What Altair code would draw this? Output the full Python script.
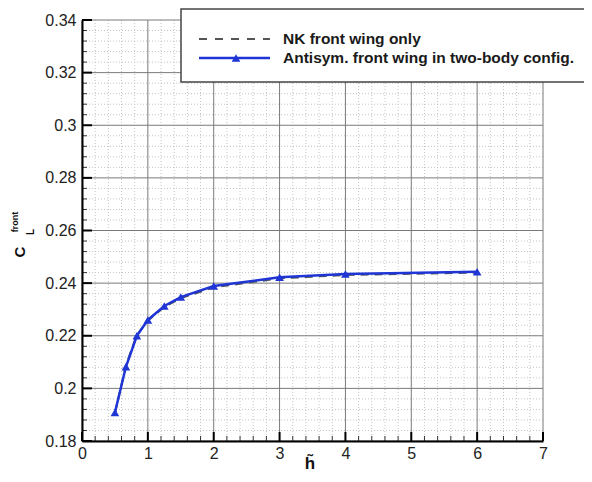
import altair as alt
import pandas as pd
import numpy as np

# ---- data ----
h_vals = [0.5, 0.667, 0.833, 1.0, 1.25, 1.5, 2.0, 3.0, 4.0, 6.0]
cl_antisym = [0.1908, 0.2082, 0.2200, 0.2260, 0.2313, 0.2347, 0.2389, 0.2422, 0.2435, 0.2443]
cl_nk = [0.1905, 0.2088, 0.2203, 0.2257, 0.2310, 0.2343, 0.2384, 0.2418, 0.2431, 0.2440]

x_major = [0, 1, 2, 3, 4, 5, 6, 7]
y_major = [0.18, 0.2, 0.22, 0.24, 0.26, 0.28, 0.3, 0.32, 0.34]
x_minor = [round(v, 3) for v in np.arange(0, 7.001, 0.2) if abs(v - round(v)) > 1e-6]
y_minor = [round(v, 4) for v in np.arange(0.18, 0.3401, 0.004)
           if abs(v / 0.02 - round(v / 0.02)) > 1e-6]

legend_labels = ["NK front wing only", "Antisym. front wing in two-body config."]

W, H = 461, 421
FONT = "Liberation Sans"
BLUE = "#1f35d5"
GREY = "#555555"

xs = alt.Scale(domain=[0, 7], nice=False, zero=False)
ys = alt.Scale(domain=[0.18, 0.34], nice=False, zero=False)

xaxis = alt.Axis(values=x_major, format="d", grid=False, ticks=False, domain=True,
                 domainColor="black", domainWidth=2, labelFont=FONT, labelFontSize=16,
                 labelColor="#222222", labelPadding=4, labelFlush=False, zindex=1)
yaxis = alt.Axis(values=y_major, format="~g", grid=False, ticks=False, domain=True,
                 domainColor="black", domainWidth=2, labelFont=FONT, labelFontSize=16,
                 labelColor="#222222", labelPadding=6, labelFlush=False, zindex=1)


def X(f):
    return alt.X(f, type="quantitative", scale=xs, axis=xaxis, title=None)


def Y(f):
    return alt.Y(f, type="quantitative", scale=ys, axis=yaxis, title=None)


df_xmin = pd.DataFrame({"v": x_minor})
df_ymin = pd.DataFrame({"v": y_minor})
df_xmaj = pd.DataFrame({"v": x_major})
df_ymaj = pd.DataFrame({"v": y_major})

grid_minor_x = alt.Chart(df_xmin).mark_rule(color="#c4c4c4", strokeDash=[1, 2], strokeWidth=1).encode(x=X("v"))
grid_minor_y = alt.Chart(df_ymin).mark_rule(color="#c4c4c4", strokeDash=[1, 2], strokeWidth=1).encode(y=Y("v"))
grid_major_x = alt.Chart(df_xmaj).mark_rule(color="#7a7a7a", strokeWidth=1).encode(x=X("v"))
grid_major_y = alt.Chart(df_ymaj).mark_rule(color="#7a7a7a", strokeWidth=1).encode(y=Y("v"))

# inward ticks
tick_x_major = alt.Chart(df_xmaj).mark_rule(color="black", strokeWidth=2).encode(
    x=X("v"), y=alt.value(H), y2=alt.value(H - 9))
tick_x_minor = alt.Chart(df_xmin).mark_rule(color="#333333", strokeWidth=1).encode(
    x=X("v"), y=alt.value(H), y2=alt.value(H - 5))
tick_y_major = alt.Chart(df_ymaj).mark_rule(color="black", strokeWidth=2).encode(
    y=Y("v"), x=alt.value(0), x2=alt.value(10))
tick_y_minor = alt.Chart(df_ymin).mark_rule(color="#333333", strokeWidth=1).encode(
    y=Y("v"), x=alt.value(0), x2=alt.value(5))

df_nk = pd.DataFrame({"h": h_vals, "cl": cl_nk})
df_as = pd.DataFrame({"h": h_vals, "cl": cl_antisym})

line_nk = alt.Chart(df_nk).mark_line(color=GREY, strokeDash=[8, 6], strokeWidth=2).encode(x=X("h"), y=Y("cl"))
line_as = alt.Chart(df_as).mark_line(color=BLUE, strokeWidth=2.5).encode(x=X("h"), y=Y("cl"))
pts_as = alt.Chart(df_as).mark_point(shape="triangle-up", filled=True, size=75, color=BLUE,
                                     opacity=1).encode(x=X("h"), y=Y("cl"))

one = pd.DataFrame({"k": [0]})

# legend
leg_box = alt.Chart(one).mark_rect(fill="white", stroke="#444444", strokeWidth=1.5).encode(
    x=alt.value(99), x2=alt.value(530), y=alt.value(-11), y2=alt.value(62))
leg_line1 = alt.Chart(one).mark_rule(color=GREY, strokeDash=[8, 8], strokeWidth=2).encode(
    x=alt.value(117), x2=alt.value(188), y=alt.value(19))
leg_line2 = alt.Chart(one).mark_rule(color=BLUE, strokeWidth=2.5).encode(
    x=alt.value(117), x2=alt.value(188), y=alt.value(38))
leg_pt = alt.Chart(one).mark_point(shape="triangle-up", filled=True, size=75, color=BLUE,
                                   opacity=1).encode(x=alt.value(154), y=alt.value(38))
df_l1 = pd.DataFrame({"label": [legend_labels[0]]})
df_l2 = pd.DataFrame({"label": [legend_labels[1]]})
leg_t1 = alt.Chart(df_l1).mark_text(font=FONT, fontSize=15.5, fontWeight="bold", color="#1a1a1a",
                                    align="left", baseline="middle").encode(
    x=alt.value(201), y=alt.value(19), text="label:N")
leg_t2 = alt.Chart(df_l2).mark_text(font=FONT, fontSize=15.5, fontWeight="bold", color="#1a1a1a",
                                    align="left", baseline="middle").encode(
    x=alt.value(201), y=alt.value(38), text="label:N")

# axis titles
yt_c = alt.Chart(one).mark_text(font=FONT, fontSize=15, fontWeight="bold", color="#111111", angle=270,
                                align="center", baseline="middle").encode(
    x=alt.value(-62), y=alt.value(232), text=alt.value("C"))
yt_sup = alt.Chart(one).mark_text(font=FONT, fontSize=9, fontWeight="bold", color="#111111", angle=270,
                                  align="center", baseline="middle").encode(
    x=alt.value(-67), y=alt.value(202), text=alt.value("front"))
yt_sub = alt.Chart(one).mark_text(font=FONT, fontSize=10, fontWeight="bold", color="#111111", angle=270,
                                  align="center", baseline="middle").encode(
    x=alt.value(-51), y=alt.value(212), text=alt.value("L"))
xt_h = alt.Chart(one).mark_text(font=FONT, fontSize=17, fontWeight="bold", color="#111111",
                                align="center", baseline="alphabetic").encode(
    x=alt.value(228), y=alt.value(449), text=alt.value("h\u0303"))

chart = alt.layer(
    grid_minor_x, grid_minor_y, grid_major_x, grid_major_y,
    tick_x_minor, tick_y_minor, tick_x_major, tick_y_major,
    line_nk, line_as, pts_as,
    leg_box, leg_line1, leg_line2, leg_pt, leg_t1, leg_t2,
    yt_c, yt_sup, yt_sub, xt_h,
).properties(
    width=W, height=H,
    padding={"left": 74, "top": 12, "right": 41, "bottom": 33},
    autosize=alt.AutoSizeParams(type="none"),
    background="white",
).configure_view(stroke=None)

chart.save("out.html", embed_options={"renderer": "svg", "actions": False})
